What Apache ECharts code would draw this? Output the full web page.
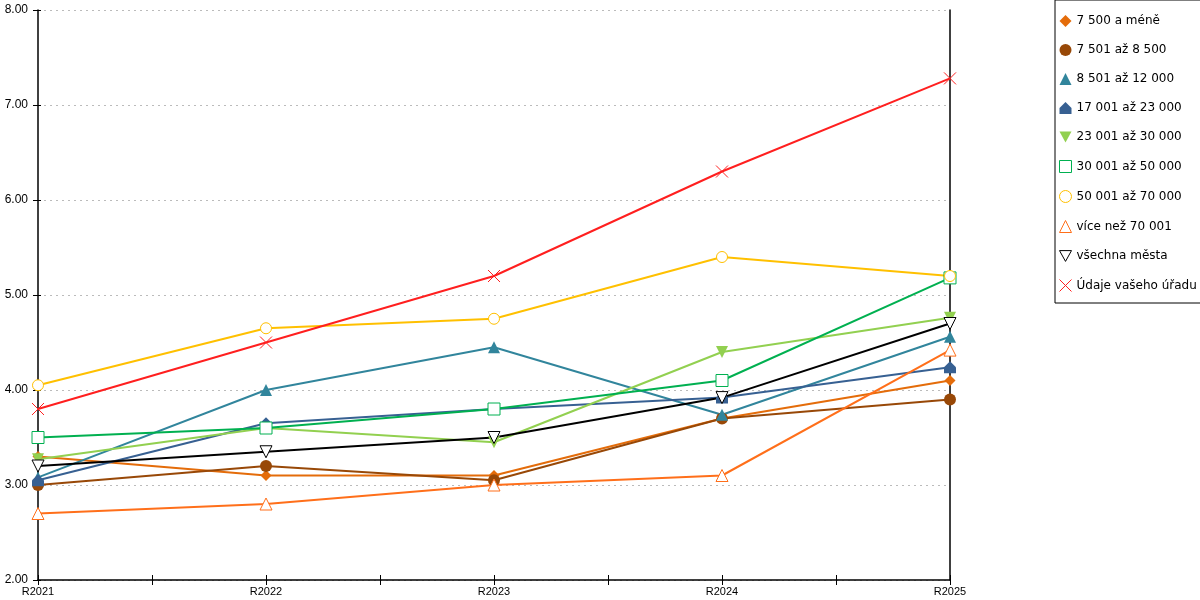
<!DOCTYPE html>
<html lang="cs">
<head>
    <meta charset="UTF-8">
    <title>Vývoj hodnot R2021–R2025</title>
    <style>
        html, body { margin: 0; padding: 0; background: #fff; }
        #chart { width: 1200px; height: 600px; }
    </style>
</head>
<body>
    <div id="chart"></div>
    <script src="https://cdn.jsdelivr.net/npm/echarts@6/dist/echarts.min.js"></script>
    <script>
        // roky na ose x
        const years = ['R2021', 'R2022', 'R2023', 'R2024', 'R2025']

        // hodnoty podle velikosti obce
        const s7500 = [3.30, 3.10, 3.10, 3.70, 4.10]
        const s8500 = [3.00, 3.20, 3.05, 3.70, 3.90]
        const s12000 = [3.08, 4.00, 4.45, 3.74, 4.56]
        const s23000 = [3.05, 3.65, 3.80, 3.92, 4.24]
        const s30000 = [3.27, 3.60, 3.45, 4.40, 4.76]
        const s50000 = [3.50, 3.60, 3.80, 4.10, 5.18]
        const s70000 = [4.05, 4.65, 4.75, 5.40, 5.20]
        const sOver70000 = [2.70, 2.80, 3.00, 3.10, 4.42]
        const sAll = [3.20, 3.35, 3.50, 3.92, 4.70]
        const sOffice = [3.80, 4.50, 5.20, 6.30, 7.28]

        const yMin = 2, yMax = 8, yStep = 1

        const housePath = 'path://M5,0 L10,5 L10,10 L0,10 L0,5 Z'
        const downTriPath = 'path://M0,0 L10,0 L5,9 Z'
        const squarePath = 'path://M0,0 L10,0 L10,10 L0,10 Z'
        const crossPath = 'path://M0,0 L10,10 M10,0 L0,10'

        // popis řad: název, data, barva, symbol
        const defs = [
            { name: '7 500 a méně', data: s7500, color: '#e46c0a', symbol: 'diamond', size: 11 },
            { name: '7 501 až 8 500', data: s8500, color: '#984807', symbol: 'circle', size: 12 },
            { name: '8 501 až 12 000', data: s12000, color: '#31859c', symbol: 'triangle', size: 12 },
            { name: '17 001 až 23 000', data: s23000, color: '#376092', symbol: housePath, size: 12 },
            { name: '23 001 až 30 000', data: s30000, color: '#92d050', symbol: downTriPath, size: 12 },
            { name: '30 001 až 50 000', data: s50000, color: '#00b050', symbol: squarePath, size: 12, empty: true },
            { name: '50 001 až 70 000', data: s70000, color: '#ffc000', symbol: 'circle', size: 11, empty: true },
            { name: 'více než 70 001', data: sOver70000, color: '#ff6f1a', symbol: 'triangle', size: 12, empty: true },
            { name: 'všechna města', data: sAll, color: '#000000', symbol: downTriPath, size: 12, empty: true },
            { name: 'Údaje vašeho úřadu', data: sOffice, color: '#ff1f1f', symbol: crossPath, size: 12, empty: true }
        ]

        const markStyle = d => d.empty
            ? { color: '#fff', borderColor: d.color, borderWidth: 1, opacity: 1 }
            : { color: d.color, borderColor: d.color, borderWidth: 0, opacity: 1 }

        const series = defs.map(d => ({
            name: d.name,
            type: 'line',
            color: d.color,
            data: d.data,
            xAxisIndex: 0,
            yAxisIndex: 0,
            symbol: d.symbol,
            symbolSize: d.size,
            showAllSymbol: true,
            lineStyle: { color: d.color, width: 2 },
            itemStyle: markStyle(d),
            emphasis: { disabled: true },
            z: 3
        }))

        const legendData = defs.map(d => ({
            name: d.name,
            icon: d.symbol,
            itemStyle: markStyle(d)
        }))

        // pomocné osy jen pro značky na ose x (i v polovině mezi roky)
        const tickAxis = inside => ({
            type: 'value', min: 0, max: years.length - 1, interval: 0.5,
            position: 'bottom',
            axisLine: { show: false },
            axisLabel: { show: false },
            splitLine: { show: false },
            axisTick: { show: true, inside: inside, length: 5, lineStyle: { color: '#000', width: 1 } }
        })

        const myChart = echarts.init(document.getElementById('chart'))
        const option = {
            animation: false,
            backgroundColor: '#fff',
            color: defs.map(d => d.color),
            grid: { left: 38, right: 250, top: 10, bottom: 20, containLabel: false },
            legend: {
                orient: 'vertical',
                left: 1055,
                top: 0,
                padding: [15, 7, 11, 4],
                itemWidth: 12,
                itemHeight: 12,
                itemGap: 17,
                itemTextGap: 4,
                borderColor: '#000',
                borderWidth: 1,
                selectedMode: false,
                textStyle: { fontFamily: 'DejaVu Sans', fontSize: 12, color: '#000' },
                data: legendData
            },
            xAxis: [
                {
                    type: 'category',
                    data: years,
                    boundaryGap: false,
                    position: 'bottom',
                    axisLine: { show: true, lineStyle: { color: '#000', width: 1.5 } },
                    axisTick: { show: false },
                    axisLabel: { fontFamily: 'Liberation Sans', fontSize: 11, color: '#000', margin: 6, interval: 0 },
                    splitLine: { show: false }
                },
                tickAxis(false),
                tickAxis(true)
            ],
            yAxis: [
                {
                    type: 'value', min: yMin, max: yMax, interval: yStep,
                    position: 'left',
                    axisLine: { show: true, lineStyle: { color: '#000', width: 1.5 } },
                    axisTick: { show: true, length: 5, lineStyle: { color: '#000' } },
                    axisLabel: {
                        fontFamily: 'Liberation Sans', fontSize: 12, color: '#000', margin: 10,
                        formatter: v => v.toFixed(2)
                    },
                    splitLine: { show: true, lineStyle: { color: '#bbb', type: [2, 4], width: 1 } }
                },
                {
                    type: 'value', min: yMin, max: yMax, interval: yStep,
                    position: 'left',
                    axisLine: { show: false },
                    axisTick: { show: true, inside: true, length: 3, lineStyle: { color: '#000' } },
                    axisLabel: { show: false },
                    splitLine: { show: false }
                },
                {
                    type: 'value', min: yMin, max: yMax, interval: yStep,
                    position: 'right',
                    axisLine: { show: true, lineStyle: { color: '#000', width: 1.5 } },
                    axisTick: { show: false },
                    axisLabel: { show: false },
                    splitLine: { show: false }
                }
            ],
            series: series
        }

        myChart.setOption(option)
    </script>
</body>
</html>
